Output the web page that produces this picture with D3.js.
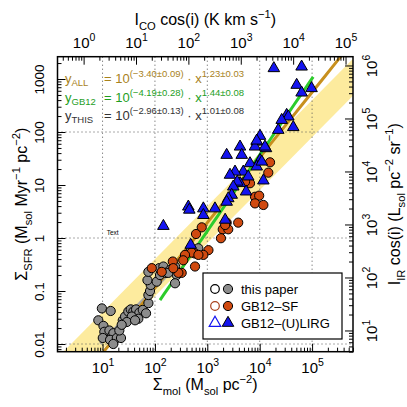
<!DOCTYPE html>
<html><head><meta charset="utf-8">
<script src="https://cdn.jsdelivr.net/npm/d3@7"></script>
<style>body{margin:0;background:#fff} text{font-family:"Liberation Sans",Arial,sans-serif}</style>
</head><body><svg id="c" width="407" height="407"></svg>
<script>
// ---------- data ----------
const thisMol = [9.7,14.3,8.3,10.4,10.8,10.1,13.5,15,16.1,13.9,18.7,22.5,20.9,24.3,26.9,31,34.5,38.7,43.6,50.4,58.5,67.6,48.2,36.1,29,41.7,23.2,75,75,80.5,83,72,108,125,121,145,163,194,242,261,75,16,673,482,242,180];
const thisSFR = [0.047,0.042,0.028,0.022,0.017,0.013,0.018,0.014,0.016,0.012,0.013,0.013,0.018,0.028,0.033,0.041,0.045,0.041,0.045,0.039,0.044,0.038,0.030,0.033,0.026,0.028,0.023,0.059,0.084,0.10,0.13,0.16,0.15,0.20,0.27,0.29,0.22,0.25,0.29,0.20,0.23,0.010,0.64,0.64,0.14,0.22];
const sfMol = [15740,14590,6530,5250,8130,9770,8130,11750,2340,3890,1970,2510,2190,1820,782,608,1050,840,582,501,375,347,582,219,324,87,135,280,224,676];
const sfSFR = [26.8,17.1,10.8,11.5,6.0,6.3,4.5,4.2,1.95,1.95,1.46,1.46,1.76,0.99,1.59,1.19,0.59,0.48,0.51,0.53,0.48,0.38,0.29,0.36,0.22,0.27,0.23,0.22,0.27,0.48];
const lirgMol = [4210,2340,4540,8770,8130,13180,10140,6530,8770,10960,4860,3380,2710,6030,4210,3720,3130,11750,5500,2920,2510,2340,1400,840,840,434,453,2190,482,145,18620,63100,50800,63100,97700,32700,35200,26300,43700,22600,10140,8770,12590];
const lirgSFR = [52.8,36.8,36.8,65.6,52.8,49.2,29.6,25.6,22.2,27.5,17.8,17.8,15.5,14.4,10.8,11.5,9.3,12.1,7.5,6.5,5.6,4.8,3.6,3.6,2.7,3.9,3.4,2.2,0.74,1.68,1592,1706,771,552,668,209,195,168,123,109,84,68.5,52.8];
// fits: [log intercept, slope, xmin, xmax]
const fitNames = ["ALL","GB12","THIS"];
const fitIntercepts = [-3.40,-4.19,-2.96];
const fitSlopes = [1.23,1.44,1.01];
const fitXmin = [1,125,9];
const fitXmax = [1e6,1.05e5,280];
const fitLabels = [["ALL","(\u22123.40\u00b10.09)","1.23\u00b10.03"],["GB12","(\u22124.19\u00b10.28)","1.44\u00b10.08"],["THIS","(\u22122.96\u00b10.13)","1.01\u00b10.08"]];
const bandDepletionMyr = [250, 1250];
const legendLabels = ["this paper","GB12\u2013SF","GB12\u2013(U)LIRG"];
const xTickLabels = ["10","10","10","10","10"]; // 10^1..10^5
const yTickLabels = ["0.01","0.1","1","10","100","1000"];
const coFactor = 4.35;       // Msol pc^-2 per K km/s
const irFactor = 1.8e-3;     // SFR per IR intensity

// ---------- layout ----------
const svg = d3.select("#c");
const L=57.5, R=353, T=56.7, B=351.7;
const x = d3.scaleLog().domain([1.38, 6.04e5]).range([L,R]);
const y = d3.scaleLog().domain([0.00716, 2636]).range([B,T]);
const xTop = d3.scaleLog().domain(x.domain().map(d=>d/coFactor)).range([L,R]);
const yR = d3.scaleLog().domain(y.domain().map(d=>d/irFactor)).range([B,T]);

svg.append("clipPath").attr("id","cp").append("rect").attr("x",L).attr("y",T).attr("width",R-L).attr("height",B-T);
const plot = svg.append("g").attr("clip-path","url(#cp)");

// band
const bx = [1, 1e7];
const bandPts = bx.map(v=>[x(v), y(v/bandDepletionMyr[0])]).concat(bx.slice().reverse().map(v=>[x(v), y(v/bandDepletionMyr[1])]));
plot.append("path").attr("d", d3.line()(bandPts)+"Z").attr("fill","#fdeb9e");

// grid
[10,100,1e3,1e4,1e5].forEach(v=>plot.append("line").attr("x1",x(v)).attr("x2",x(v)).attr("y1",T).attr("y2",B).attr("stroke","#555").attr("stroke-dasharray","1,3"));
[0.01,1,100].forEach(v=>plot.append("line").attr("y1",y(v)).attr("y2",y(v)).attr("x1",L).attr("x2",R).attr("stroke","#555").attr("stroke-dasharray","1,3"));

// fit lines
const fitColors = ["#c8901e","#2ccc2c","#a8a8a8"];
const fitOrder = [2,0,1];
fitOrder.forEach(i=>{
  const xs = d3.range(0,41).map(k=>Math.pow(10, Math.log10(fitXmin[i]) + k/40*(Math.log10(fitXmax[i])-Math.log10(fitXmin[i]))));
  plot.append("path").attr("d", d3.line()(xs.map(v=>[x(v), y(Math.pow(10,fitIntercepts[i])*Math.pow(v,fitSlopes[i]))])))
    .attr("fill","none").attr("stroke",fitColors[i]).attr("stroke-width",3);
});

// points
const greyFill="#8c8c8c", redFill="#d04a10", blueFill="#1414f0";
plot.selectAll(".g").data(thisMol).enter().append("circle").attr("cx",(d)=>x(d)).attr("cy",(d,i)=>y(thisSFR[i])).attr("r",4.6).attr("fill",greyFill).attr("stroke","#000").attr("stroke-width",1);
plot.selectAll(".r").data(sfMol).enter().append("circle").attr("cx",(d)=>x(d)).attr("cy",(d,i)=>y(sfSFR[i])).attr("r",4.6).attr("fill",redFill).attr("stroke","#000").attr("stroke-width",1);
const tri = d3.symbol().type(d3.symbolTriangle).size(58);
plot.selectAll(".b").data(lirgMol).enter().append("path").attr("d",tri).attr("transform",(d,i)=>`translate(${x(d)},${y(lirgSFR[i])})`).attr("fill",blueFill).attr("stroke","#000").attr("stroke-width",1);

// "Text" label
svg.append("text").attr("x",x(12)).attr("y",y(1.15)).attr("font-size",6.5).attr("fill","#000").text("Text");

// ---------- axes ----------
function minors(dom){const out=[];const a=Math.floor(Math.log10(dom[0])),b=Math.ceil(Math.log10(dom[1]));for(let e=a;e<=b;e++)for(let m=2;m<=9;m++){const v=m*Math.pow(10,e);if(v>=dom[0]&&v<=dom[1])out.push(v);}return out;}
function styleAxis(g){g.select(".domain").remove();g.selectAll("line").attr("stroke","#000").attr("stroke-width",1);}
function sup(sel, base, exps, bs, ss){sel.each(function(d,i){const t=d3.select(this);t.text(null);t.append("tspan").text(base).attr("font-size",bs);t.append("tspan").text(exps(d)).attr("font-size",ss).attr("dy",-bs*0.45);});}

const xMaj=[10,100,1e3,1e4,1e5];
// bottom
let g=svg.append("g").attr("transform",`translate(0,${B})`).call(d3.axisBottom(x).tickValues(minors(x.domain())).tickSize(-4).tickFormat(""));styleAxis(g);
g=svg.append("g").attr("transform",`translate(0,${B})`).call(d3.axisBottom(x).tickValues(xMaj).tickSize(-8).tickPadding(8));styleAxis(g);
g.selectAll("text").attr("fill","#000").attr("dy",null).attr("y",21).each(function(d,i){const t=d3.select(this);t.text(null);t.append("tspan").text(xTickLabels[i]).attr("font-size",15);t.append("tspan").text(Math.round(Math.log10(d))).attr("font-size",10.5).attr("dy",-7);});
// top
const topMaj=[1,10,100,1e3,1e4,1e5];
g=svg.append("g").attr("transform",`translate(0,${T})`).call(d3.axisTop(xTop).tickValues(minors(xTop.domain())).tickSize(-4).tickFormat(""));styleAxis(g);
g=svg.append("g").attr("transform",`translate(0,${T})`).call(d3.axisTop(xTop).tickValues(topMaj).tickSize(-8));styleAxis(g);
g.selectAll("text").attr("fill","#000").attr("dy",null).attr("y",-9).each(function(d){const t=d3.select(this);t.text(null);t.append("tspan").text("10").attr("font-size",15);t.append("tspan").text(Math.round(Math.log10(d))).attr("font-size",10.5).attr("dy",-7);});
// left
const yMaj=[0.01,0.1,1,10,100,1000];
g=svg.append("g").attr("transform",`translate(${L},0)`).call(d3.axisLeft(y).tickValues(minors(y.domain())).tickSize(-4).tickFormat(""));styleAxis(g);
g=svg.append("g").attr("transform",`translate(${L},0)`).call(d3.axisLeft(y).tickValues(yMaj).tickSize(-8).tickFormat((d,i)=>yTickLabels[i]));styleAxis(g);
g.selectAll("text").attr("fill","#000").attr("font-size",13.5).attr("transform","rotate(-90)").attr("x",0).attr("y",-14).attr("dy",null).attr("text-anchor","middle");
// right
const rMaj=[10,100,1e3,1e4,1e5,1e6];
g=svg.append("g").attr("transform",`translate(${R},0)`).call(d3.axisRight(yR).tickValues(minors(yR.domain())).tickSize(-4).tickFormat(""));styleAxis(g);
g=svg.append("g").attr("transform",`translate(${R},0)`).call(d3.axisRight(yR).tickValues(rMaj).tickSize(-8));styleAxis(g);
g.selectAll("text").attr("fill","#000").attr("transform","rotate(-90)").attr("x",0).attr("y",24).attr("dy",null).attr("text-anchor","middle").each(function(d){const t=d3.select(this);t.text(null);t.append("tspan").text("10").attr("font-size",15);t.append("tspan").text(Math.round(Math.log10(d))).attr("font-size",10.5).attr("dy",-7);});

// frame
svg.append("rect").attr("x",L).attr("y",T).attr("width",R-L).attr("height",B-T).attr("fill","none").attr("stroke","#000").attr("stroke-width",1.5);

// ---------- titles ----------
function rich(parent, parts, fs){ // parts: [text, mode] mode: n, sub, sup
  let cur=0;
  parts.forEach(([s,m])=>{const t=parent.append("tspan").text(s);let target=m==="sub"?fs*0.3:m==="sup"?-fs*0.45:0;t.attr("dy",target-cur);cur=target;if(m!=="n")t.attr("font-size",fs*0.7);else t.attr("font-size",fs);});
}
let tt=svg.append("text").attr("x",(L+R)/2).attr("y",390).attr("text-anchor","middle").attr("fill","#000");
rich(tt,[["\u03a3","n"],["mol","sub"],[" (M","n"],["sol","sub"],[" pc","n"],["\u22122","sup"],[")","n"]],16);
tt=svg.append("text").attr("x",(L+R)/2).attr("y",25).attr("text-anchor","middle").attr("fill","#000");
rich(tt,[["I","n"],["CO","sub"],[" cos(i) (K km s","n"],["\u22121","sup"],[")","n"]],16);
tt=svg.append("text").attr("transform",`translate(27,${(T+B)/2}) rotate(-90)`).attr("text-anchor","middle").attr("fill","#000");
rich(tt,[["\u03a3","n"],["SFR","sub"],[" (M","n"],["sol","sub"],[" Myr","n"],["\u22121","sup"],[" pc","n"],["\u22122","sup"],[")","n"]],16);
tt=svg.append("text").attr("transform",`translate(400,${(T+B)/2}) rotate(-90)`).attr("text-anchor","middle").attr("fill","#000");
rich(tt,[["I","n"],["IR","sub"],[" cos(i) (L","n"],["sol","sub"],[" pc","n"],["\u22122","sup"],[" sr","n"],["\u22121","sup"],[")","n"]],16);

// ---------- formulas ----------
const fitTextColors=["#a8821c","#1e9e1e","#333333"];
const rowY=[83,102,120];
fitLabels.forEach((lab,i)=>{
  const t=svg.append("text").attr("x",65).attr("y",rowY[i]).attr("fill",fitTextColors[i]).attr("font-size",13);
  t.append("tspan").text("y");
  t.append("tspan").text(lab[0]).attr("font-size",9.5).attr("dy",3);
  t.append("tspan").text("= 10").attr("x",104).attr("dy",-3);
  t.append("tspan").text(lab[1]).attr("font-size",9.5).attr("dy",-6);
  t.append("tspan").text(" \u00b7 x").attr("dy",6);
  t.append("tspan").text(lab[2]).attr("font-size",9.5).attr("dy",-6);
});

// ---------- legend ----------
const lg=svg.append("g");
lg.append("rect").attr("x",203).attr("y",273).attr("width",139).attr("height",66).attr("fill","#fff").attr("stroke","#000").attr("stroke-width",1.2);
const rowsY=[289,306,323];
const openStroke=["#000","#a8401a","#1414f0"], fills=[greyFill,redFill,blueFill];
rowsY.forEach((ry,i)=>{
  if(i<2){
    lg.append("circle").attr("cx",215).attr("cy",ry).attr("r",4.3).attr("fill","none").attr("stroke",openStroke[i]).attr("stroke-width",1.2);
    lg.append("circle").attr("cx",228).attr("cy",ry).attr("r",4.6).attr("fill",fills[i]).attr("stroke","#000");
  } else {
    lg.append("path").attr("d",tri).attr("transform",`translate(215,${ry})`).attr("fill","none").attr("stroke",openStroke[i]).attr("stroke-width",1.2);
    lg.append("path").attr("d",tri).attr("transform",`translate(228,${ry})`).attr("fill",fills[i]).attr("stroke","#000");
  }
  lg.append("text").attr("x",241).attr("y",ry+4.5).attr("font-size",13).attr("fill","#000").text(legendLabels[i]);
});
</script></body></html>
